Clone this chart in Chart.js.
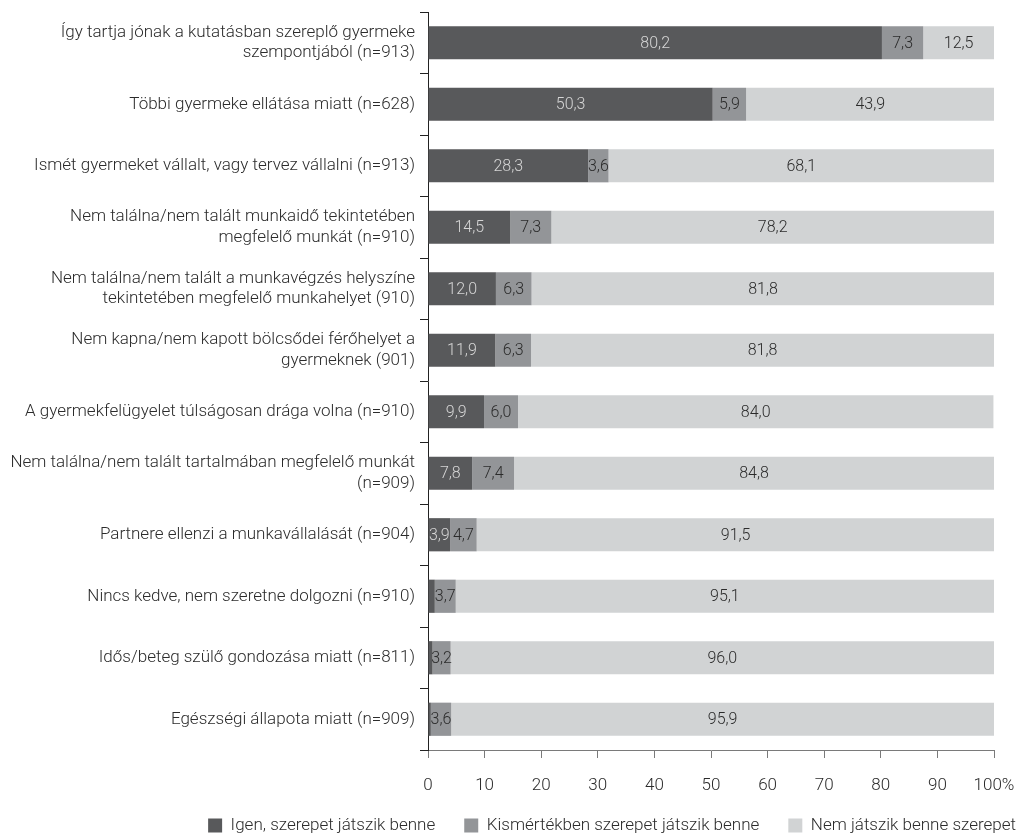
<!DOCTYPE html>
<html>
<head>
<meta charset="utf-8">
<script src="https://cdn.jsdelivr.net/npm/chart.js@4/dist/chart.umd.min.js"></script>
<style>
  html, body { margin: 0; padding: 0; background: #fff; }
  #wrap { width: 1023px; height: 837px; position: relative; }
</style>
</head>
<body>
<div id="wrap"><canvas id="chart"></canvas></div>
<script>
const categories = [
  ['Így tartja jónak a kutatásban szereplő gyermeke', 'szempontjából (n=913)'],
  'Többi gyermeke ellátása miatt (n=628)',
  'Ismét gyermeket vállalt, vagy tervez vállalni (n=913)',
  ['Nem találna/nem talált munkaidő tekintetében', 'megfelelő munkát (n=910)'],
  ['Nem találna/nem talált a munkavégzés helyszíne', 'tekintetében megfelelő munkahelyet (910)'],
  ['Nem kapna/nem kapott bölcsődei férőhelyet a', 'gyermeknek (901)'],
  'A gyermekfelügyelet túlságosan drága volna (n=910)',
  ['Nem találna/nem talált tartalmában megfelelő munkát', '(n=909)'],
  'Partnere ellenzi a munkavállalását (n=904)',
  'Nincs kedve, nem szeretne dolgozni (n=910)',
  'Idős/beteg szülő gondozása miatt (n=811)',
  'Egészségi állapota miatt (n=909)'
];
const seriesNames = ['Igen, szerepet játszik benne', 'Kismértékben szerepet játszik benne', 'Nem játszik benne szerepet'];
const igen = [80.2, 50.3, 28.3, 14.5, 12.0, 11.9, 9.9, 7.8, 3.9, 1.2, 0.8, 0.5];
const kismertekben = [7.3, 5.9, 3.6, 7.3, 6.3, 6.3, 6.0, 7.4, 4.7, 3.7, 3.2, 3.6];
const nem = [12.5, 43.9, 68.1, 78.2, 81.8, 81.8, 84.0, 84.8, 91.5, 95.1, 96.0, 95.9];
const xTicks = [0, 10, 20, 30, 40, 50, 60, 70, 80, 90, 100];

const colors = ['#58595b', '#939598', '#d1d3d4'];
const labelColors = ['#d6d6d6', '#2b2b2b', '#2b2b2b'];
const FONT = 'Roboto';

// draws the value inside each segment
const valueLabels = {
  id: 'valueLabels',
  afterDatasetsDraw(chart) {
    const ctx = chart.ctx;
    ctx.save();
    ctx.font = '300 16px ' + FONT;
    ctx.textAlign = 'center';
    ctx.textBaseline = 'middle';
    chart.data.datasets.forEach((ds, di) => {
      const meta = chart.getDatasetMeta(di);
      meta.data.forEach((bar, i) => {
        const v = ds.data[i];
        if (v < 2) return;
        const p = bar.getCenterPoint();
        ctx.fillStyle = labelColors[di];
        ctx.fillText(v.toFixed(1).replace('.', ','), p.x, p.y + 1);
      });
    });
    ctx.restore();
  }
};

// nudge the legend box: a bit up and to the right
const legendShift = {
  id: 'legendShift',
  afterLayout(chart) {
    const lg = chart.legend;
    if (!lg) return;
    lg.top -= 10; lg.bottom -= 10;
    lg.left += 35; lg.right += 35;
  }
};

new Chart(document.getElementById('chart'), {
  type: 'bar',
  data: {
    labels: categories,
    datasets: [igen, kismertekben, nem].map((d, i) => ({
      label: seriesNames[i],
      data: d,
      backgroundColor: colors[i],
      borderWidth: 0,
      barPercentage: 0.54,
      categoryPercentage: 1
    }))
  },
  options: {
    indexAxis: 'y',
    responsive: true,
    maintainAspectRatio: false,
    animation: false,
    layout: { padding: { top: 12, right: 13, bottom: -17, left: 0 } },
    plugins: {
      legend: {
        position: 'bottom',
        align: 'end',
        labels: {
          font: { family: FONT, size: 17, weight: '300' },
          color: '#2b2b2b',
          boxWidth: 14,
          boxHeight: 14,
          padding: 29
        }
      },
      tooltip: { enabled: false }
    },
    scales: {
      x: {
        stacked: true,
        min: 0,
        max: 100,
        afterBuildTicks: (scale) => { scale.ticks = xTicks.map(v => ({ value: v })); },
        afterFit: (scale) => {
          scale.height = 48;
          scale.paddingLeft = 0;
          scale.paddingRight = 29;
        },
        ticks: {
          font: { family: FONT, size: 17, weight: '300' },
          color: '#2b2b2b',
          padding: 18,
          maxRotation: 0,
          callback: (v) => v === 100 ? '100%' : v
        },
        grid: { drawOnChartArea: false, tickLength: 8, color: '#7a7a7a', tickColor: '#7a7a7a' },
        border: { color: '#7a7a7a', width: 1 }
      },
      y: {
        stacked: true,
        afterFit: (scale) => {
          scale.width = 428;
          scale.paddingTop = 0;
          scale.paddingBottom = 0;
        },
        ticks: {
          font: { family: FONT, size: 17, weight: '300' },
          color: '#2b2b2b',
          padding: 5
        },
        grid: { drawOnChartArea: false, offset: true, tickLength: 8, color: '#222', tickColor: '#222' },
        border: { color: '#222', width: 1 }
      }
    }
  },
  plugins: [valueLabels, legendShift]
});
</script>
</body>
</html>
